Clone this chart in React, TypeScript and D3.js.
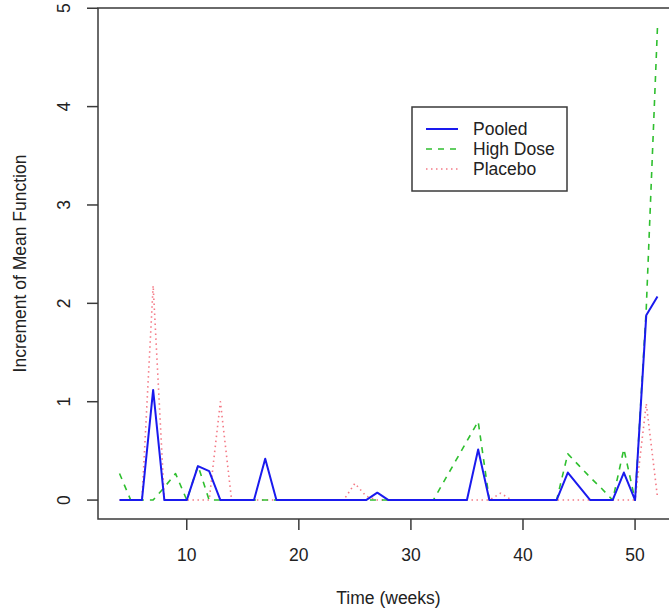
import * as d3 from "d3";
import React, { useEffect, useRef } from "react";

const weeks = d3.range(4, 53);

// one value per week, weeks 4 .. 52
const pooled = [
  0, 0, 0, 1.12, 0, 0, 0, 0.345, 0.295, 0, // 4-13
  0, 0, 0, 0.42, 0, 0, 0, 0, 0, 0, // 14-23
  0, 0, 0, 0.075, 0, 0, 0, 0, 0, 0, // 24-33
  0, 0, 0.515, 0, 0, 0, 0, 0, 0, 0, // 34-43
  0.28, 0.14, 0, 0, 0, 0.28, 0, 1.88, 2.07, // 44-52
];
const highDose = [
  0.27, 0, 0, 0, 0.13, 0.27, 0, 0.35, 0, 0, // 4-13
  0, 0, 0, 0, 0, 0, 0, 0, 0, 0, // 14-23
  0, 0, 0, 0, 0, 0, 0, 0, 0, 0.2, // 24-33
  0.4, 0.6, 0.8, 0, 0, 0, 0, 0, 0, 0, // 34-43
  0.47, 0.35, 0.23, 0.12, 0, 0.52, 0, 1.95, 4.81, // 44-52
];
const placebo = [
  0, 0, 0, 2.18, 0, 0, 0, 0, 0, 1.0, // 4-13
  0, 0, 0, 0, 0, 0, 0, 0, 0, 0, // 14-23
  0, 0.17, 0.04, 0, 0, 0, 0, 0, 0, 0, // 24-33
  0, 0, 0, 0, 0.07, 0, 0, 0, 0, 0, // 34-43
  0, 0, 0, 0, 0, 0, 0, 0.98, 0.03, // 44-52
];

const xTicks = [10, 20, 30, 40, 50];
const yTicks = [0, 1, 2, 3, 4, 5];
const seriesNames = ["Pooled", "High Dose", "Placebo"];

export default function App() {
  const ref = useRef<SVGSVGElement>(null);
  const width = 669;
  const height = 611;

  useEffect(() => {
    const svg = d3.select(ref.current);
    svg.selectAll("*").remove();

    const left = 98;
    const right = 679;
    const top = 8;
    const bottom = 519;
    const font = "'Liberation Sans', Arial, sans-serif";
    const axisColor = "#3a3a3a";

    // R style 4% padding around the data range
    const xMin = d3.min(weeks);
    const xMax = d3.max(weeks);
    const xPad = (xMax - xMin) * 0.04;
    const yMax = d3.max([...pooled, ...highDose, ...placebo]);
    const yPad = yMax * 0.04;

    const x = d3.scaleLinear().domain([xMin - xPad, xMax + xPad]).range([left, right]);
    const y = d3.scaleLinear().domain([0 - yPad, yMax + yPad]).range([bottom, top]);

    const series = [
      { name: "Placebo", values: placebo, color: "#f47a86", width: 1.6, dash: "1.5,3.5" },
      { name: "High Dose", values: highDose, color: "#2fbf2f", width: 1.6, dash: "6,6" },
      { name: "Pooled", values: pooled, color: "#1a1aee", width: 2, dash: null },
    ];

    const line = d3
      .line<number>()
      .x((d, i) => x(weeks[i]))
      .y((d) => y(d));

    svg
      .append("g")
      .selectAll("path")
      .data(series)
      .join("path")
      .attr("d", (s) => line(s.values))
      .attr("fill", "none")
      .attr("stroke", (s) => s.color)
      .attr("stroke-width", (s) => s.width)
      .attr("stroke-dasharray", (s) => s.dash)
      .attr("stroke-linejoin", "round");

    // box
    svg
      .append("rect")
      .attr("x", left)
      .attr("y", top)
      .attr("width", right - left)
      .attr("height", bottom - top)
      .attr("fill", "none")
      .attr("stroke", axisColor)
      .attr("stroke-width", 1.5);

    // x axis
    const gx = svg.append("g");
    gx.selectAll("line")
      .data(xTicks)
      .join("line")
      .attr("x1", (d) => x(d))
      .attr("x2", (d) => x(d))
      .attr("y1", bottom)
      .attr("y2", bottom + 11)
      .attr("stroke", axisColor)
      .attr("stroke-width", 1.5);
    gx.selectAll("text")
      .data(xTicks)
      .join("text")
      .attr("x", (d) => x(d))
      .attr("y", bottom + 42)
      .attr("text-anchor", "middle")
      .style("font-family", font)
      .style("font-size", "17.5px")
      .attr("fill", "#222")
      .text((d) => d);

    // y axis
    const gy = svg.append("g");
    gy.selectAll("line")
      .data(yTicks)
      .join("line")
      .attr("x1", left)
      .attr("x2", left - 11)
      .attr("y1", (d) => y(d))
      .attr("y2", (d) => y(d))
      .attr("stroke", axisColor)
      .attr("stroke-width", 1.5);
    gy.selectAll("text")
      .data(yTicks)
      .join("text")
      .attr("transform", (d) => `translate(${left - 28},${y(d)}) rotate(-90)`)
      .attr("text-anchor", "middle")
      .style("font-family", font)
      .style("font-size", "17.5px")
      .attr("fill", "#222")
      .text((d) => d);

    // axis titles
    svg
      .append("text")
      .attr("x", (left + right) / 2)
      .attr("y", 604)
      .attr("text-anchor", "middle")
      .style("font-family", font)
      .style("font-size", "17.5px")
      .attr("fill", "#222")
      .text("Time (weeks)");
    svg
      .append("text")
      .attr("transform", `translate(26,${(top + bottom) / 2}) rotate(-90)`)
      .attr("text-anchor", "middle")
      .style("font-family", font)
      .style("font-size", "17.5px")
      .attr("fill", "#222")
      .text("Increment of Mean Function");

    // legend
    const legend = svg.append("g");
    legend
      .append("rect")
      .attr("x", 412)
      .attr("y", 107)
      .attr("width", 155)
      .attr("height", 84)
      .attr("fill", "white")
      .attr("stroke", axisColor)
      .attr("stroke-width", 1.5);
    const rows = seriesNames.map((n) => series.find((s) => s.name === n));
    const row = legend
      .selectAll("g.row")
      .data(rows)
      .join("g")
      .attr("class", "row")
      .attr("transform", (d, i) => `translate(0,${129 + i * 20})`);
    row
      .append("line")
      .attr("x1", 426)
      .attr("x2", 458)
      .attr("stroke", (s) => s.color)
      .attr("stroke-width", (s) => s.width)
      .attr("stroke-dasharray", (s) => s.dash);
    row
      .append("text")
      .attr("x", 473)
      .attr("y", 6)
      .style("font-family", font)
      .style("font-size", "17.5px")
      .attr("fill", "#222")
      .text((s) => s.name);
  }, []);

  return (
    <div>
      <style>{`body{margin:0}`}</style>
      <svg ref={ref} width={width} height={height} style={{ display: "block", background: "white" }} />
    </div>
  );
}
